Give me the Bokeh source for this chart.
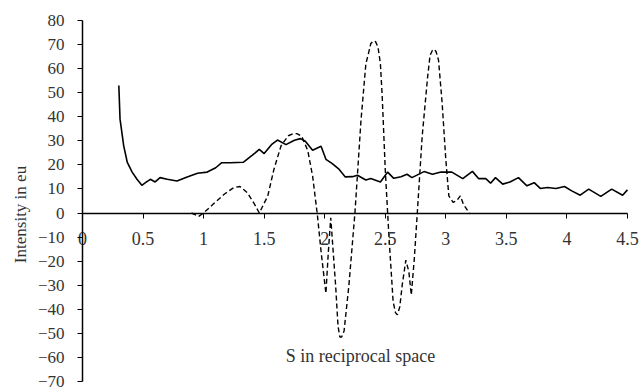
import math
from bokeh.plotting import figure
from bokeh.models import Range1d, Label, FixedTicker
from bokeh.embed import file_html
from bokeh.resources import INLINE

# Solid series (intensity)
solid_x = [0.30,0.31,0.34,0.37,0.41,0.45,0.49,0.52,0.56,0.60,
           0.64,0.70,0.78,0.87,0.95,1.03,1.10,1.15,1.22,1.33,
           1.40,1.46,1.50,1.56,1.61,1.68,1.75,1.80,1.84,1.90,
           1.97,2.01,2.06,2.12,2.17,2.23,2.27,2.34,2.38,2.46,
           2.52,2.57,2.63,2.68,2.72,2.82,2.89,2.96,3.05,3.14,
           3.22,3.27,3.33,3.37,3.41,3.47,3.53,3.60,3.67,3.73,
           3.78,3.84,3.91,3.98,4.04,4.11,4.18,4.28,4.37,4.46,4.50]
solid_y = [53,39,28,21,17,14,11.5,12.6,14,12.9,
           14.7,14,13.3,15.1,16.5,17,18.8,20.9,20.9,21.1,
           23.9,26.4,24.7,28.4,30.3,28.4,30.2,30.9,29.8,26.1,
           27.7,22.3,20.6,18.1,15,15.1,15.7,13.7,14.3,12.9,
           17,14.4,15.1,16.1,14.7,17.2,16.1,17,17,14.3,
           17.3,14.3,14.3,12.4,14.7,12,12.9,14.7,11.3,12.6,
           10.2,10.6,10.2,11,9.2,7.4,9.9,6.9,9.9,7.4,9.6]

# Dashed series
dash_x = [0.90,0.96,1.00,1.08,1.17,1.25,1.30,1.36,1.42,1.46,
          1.53,1.58,1.64,1.70,1.74,1.77,1.81,1.86,1.90,1.94,1.97,
          2.01,2.03,2.05,2.09,2.11,2.125,2.14,2.16,2.20,2.25,2.30,2.34,2.36,
          2.38,2.40,2.42,2.44,2.46,2.475,2.50,2.53,2.565,2.585,2.60,2.62,2.64,2.67,
          2.695,2.715,2.74,2.765,2.805,2.85,2.87,2.89,2.905,2.92,2.94,2.97,
          3.00,3.025,3.06,3.09,3.12,3.145,3.18,3.20]
dash_y = [0,-1.4,0,3.7,7.8,10.6,11,8.5,3.7,0,
          7.1,18,28,32.1,33,33,31.9,26,15.4,-1,-16,
          -33.4,-16.2,-2,-30,-47,-51.5,-51.5,-49,-30,0.3,38.7,62,66,
          70.3,71.5,71.2,69,62,48.3,18.1,-9.3,-36.8,-41.5,-42.3,-39,-30,-19.6,
          -24.4,-34.1,-19,0.3,31.9,56.6,65.5,67.6,68,67,63.5,45.6,
          22.3,7.1,4.4,5.1,7.1,3.7,1,-0.4]

x_ticks = [0, 0.5, 1, 1.5, 2, 2.5, 3, 3.5, 4, 4.5]
y_ticks = [-70, -60, -50, -40, -30, -20, -10, 0, 10, 20, 30, 40, 50, 60, 70, 80]
x_title = "S in reciprocal space"
y_title = "Intensity in eu"

FONT = "Liberation Serif"
TXT = "#333333"

W, H = 642, 392
X0PX, XPU = 82.0, 121.1      # pixel of x=0, pixels per x unit
Y0PX, YPU = 212.5, 2.4067    # pixel of y=0, pixels per y unit

p = figure(width=W, height=H, output_backend="svg", toolbar_location=None,
           x_range=Range1d(-X0PX / XPU, (W - X0PX) / XPU),
           y_range=Range1d(-(H - Y0PX) / YPU, Y0PX / YPU),
           min_border=0, min_border_left=0, min_border_right=0,
           min_border_top=0, min_border_bottom=0)
p.outline_line_color = None
p.grid.visible = False
p.background_fill_color = "white"
p.border_fill_color = "white"

p.line(solid_x, solid_y, line_color="black", line_width=1.6)
p.line(dash_x, dash_y, line_color="black", line_width=1.4, line_dash="5 3")

xa = p.xaxis[0]
xa.fixed_location = 0
xa.bounds = (x_ticks[0], x_ticks[-1])
xa.ticker = FixedTicker(ticks=x_ticks)
xa.major_tick_in = 0
xa.major_tick_out = 5
xa.minor_tick_out = 0
xa.minor_tick_in = 0
xa.axis_line_color = "black"
xa.axis_line_width = 1.5
xa.major_label_text_font = FONT
xa.major_label_text_font_size = "18px"
xa.major_label_text_color = TXT
xa.major_label_standoff = 14

ya = p.yaxis[0]
ya.fixed_location = 0
ya.bounds = (y_ticks[0], y_ticks[-1])
ya.ticker = FixedTicker(ticks=y_ticks)
ya.major_tick_in = 0
ya.major_tick_out = 5
ya.minor_tick_out = 0
ya.minor_tick_in = 0
ya.axis_line_color = "black"
ya.axis_line_width = 1.5
ya.major_label_text_font = FONT
ya.major_label_text_font_size = "17px"
ya.major_label_text_color = TXT
ya.major_label_standoff = 13

p.add_layout(Label(x=(20 - X0PX) / XPU, y=(Y0PX - 214) / YPU, text=y_title,
                   angle=math.pi / 2, text_align="center", text_baseline="middle",
                   text_font=FONT, text_font_size="17px", text_color=TXT))

p.add_layout(Label(x=(360 - X0PX) / XPU, y=(Y0PX - 355) / YPU, text=x_title,
                   text_align="center", text_baseline="middle",
                   text_font=FONT, text_font_size="18px", text_color=TXT))

open("out.html", "w").write(file_html(p, INLINE))
